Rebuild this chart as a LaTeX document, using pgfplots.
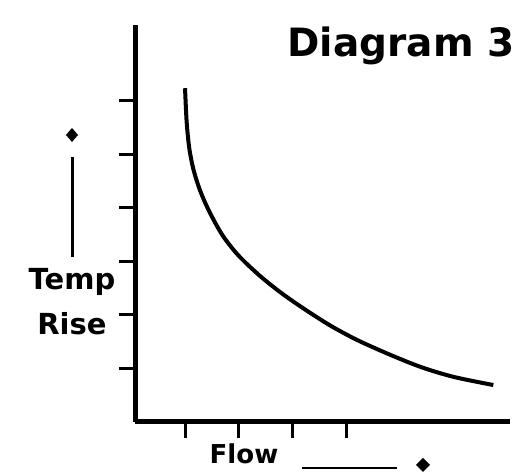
\documentclass[border=0pt]{standalone}
\usepackage{pgfplots}
\pgfplotsset{compat=1.18}
\usepackage{fontspec}
\setmainfont{DejaVu Sans}
\begin{document}
\begin{tikzpicture}[x=1pt,y=1pt]
\path[use as bounding box] (0pt,0pt) rectangle (520pt,473pt);
\begin{axis}[
  at={(135pt,51pt)}, anchor=south west,
  scale only axis, width=375pt, height=397pt,
  xmin=0.07, xmax=7.04, ymin=0, ymax=7.41,
  axis lines*=left,
  axis line style={line width=5pt,-},
  xtick={1,2,3,4}, ytick={1,2,3,4,5,6},
  xticklabels={}, yticklabels={},
  tick align=outside, major tick length=16pt,
  every tick/.style={line width=3pt,black},
  clip=false,
]
\addplot[line width=4pt, smooth, black] coordinates {
(1.00,6.23) (1.03,5.60) (1.08,5.10) (1.16,4.70) (1.28,4.32) (1.45,3.93)
(1.70,3.48) (2.00,3.10) (2.40,2.72) (2.80,2.40) (3.20,2.12) (3.70,1.80)
(4.20,1.53) (4.80,1.26) (5.40,1.02) (6.00,0.84) (6.73,0.69)
};
\end{axis}
\node[font=\bfseries\fontsize{39}{39}\selectfont, anchor=base, inner sep=0pt] at (401pt,416pt) {Diagram 3};
\node[font=\bfseries\fontsize{29}{29}\selectfont, anchor=base] at (72pt,183pt) {Temp};
\node[font=\bfseries\fontsize{29}{29}\selectfont, anchor=base] at (72pt,138pt) {Rise};
\node[font=\bfseries\fontsize{26}{26}\selectfont, anchor=base, inner sep=0pt] at (244pt,9pt) {Flow};
\draw[line width=3pt] (72pt,316pt) -- (72pt,216pt);
\fill (72pt,345pt) -- (78pt,338pt) -- (72pt,331pt) -- (66pt,338pt) -- cycle;
\draw[line width=2.5pt] (302pt,5pt) -- (397pt,5pt);
\fill (423pt,15pt) -- (430pt,8pt) -- (423pt,1pt) -- (416pt,8pt) -- cycle;
\end{tikzpicture}
\end{document}
